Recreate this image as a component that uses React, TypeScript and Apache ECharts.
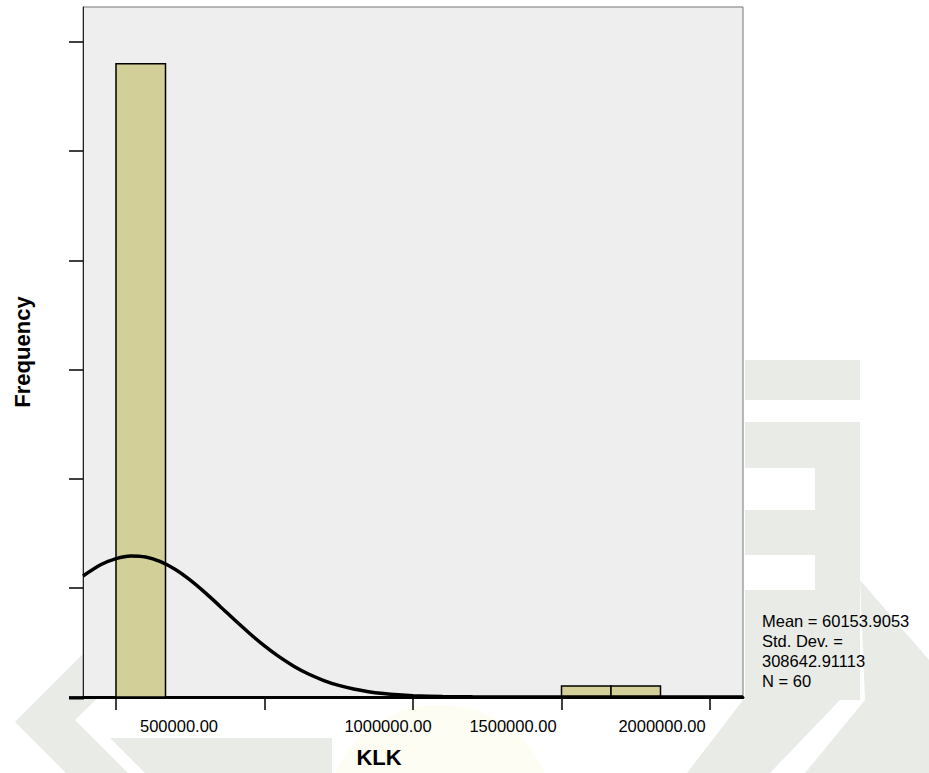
import React, { useEffect, useRef } from "react";
import * as echarts from "echarts";

// Histogram bins (KLK) and their frequencies
const binStarts = [0, 1500000, 1666667];
const binEnds = [166667, 1666667, 1833333];
const binCounts = [58, 1, 1];

// X axis ticks and labels (labels sit where SPSS printed them)
const xMin = -111111;
const xMax = 2111111;
const tickValues = [0, 500000, 1000000, 1500000, 2000000];
const tickLabels = ["500000.00", "1000000.00", "1500000.00", "2000000.00"];
const tickLabelAnchors = [212121, 915825, 1336700, 1838384];

// Y axis
const yMax = 63.2;
const yTickValues = [0, 10, 20, 30, 40, 50, 60];

// Normal curve points (x in KLK units, y in frequency)
const curveX = [
  -111111, -50000, 0, 50000, 100000, 150000, 200000, 250000, 300000, 350000,
  400000, 450000, 500000, 550000, 600000, 650000, 700000, 750000, 800000,
  850000, 900000, 950000, 1000000, 1100000, 1200000, 1300000, 1400000,
  1600000, 1800000, 2000000, 2111111,
];
const curveY = [
  11.08, 12.13, 12.68, 12.92, 12.82, 12.39, 11.67, 10.7, 9.56, 8.32, 7.05,
  5.82, 4.68, 3.67, 2.8, 2.08, 1.51, 1.06, 0.73, 0.49, 0.32, 0.2, 0.125,
  0.044, 0.014, 0.004, 0.001, 0, 0, 0, 0,
];

const statsLines = ["Mean = 60153.9053", "Std. Dev. =", "308642.91113", "N = 60"];

const FONT = 'Arial, "Liberation Sans", Helvetica, sans-serif';
const WM = "#E9EBE6";

export default function App() {
  const ref = useRef<HTMLDivElement>(null);

  useEffect(() => {
    document.body.style.margin = "0";
    if (!ref.current) return;
    const chart = echarts.init(ref.current, undefined, { renderer: "svg" });

    const watermark: any[] = [
      // left chevron
      {
        type: "polygon",
        z: -10,
        shape: { points: [[15, 722], [150, 587], [210, 587], [75, 720], [128, 773], [66, 773]] },
        style: { fill: WM },
      },
      {
        type: "polygon",
        z: -10,
        shape: { points: [[110, 738], [332, 738], [332, 773], [145, 773]] },
        style: { fill: WM },
      },
      // right side blocks
      { type: "rect", z: -10, shape: { x: 745, y: 360, width: 115, height: 40 }, style: { fill: WM } },
      { type: "rect", z: -10, shape: { x: 745, y: 422, width: 115, height: 278 }, style: { fill: WM } },
      { type: "rect", z: -9, shape: { x: 745, y: 468, width: 70, height: 42 }, style: { fill: "#ffffff" } },
      { type: "rect", z: -9, shape: { x: 745, y: 555, width: 70, height: 35 }, style: { fill: "#ffffff" } },
      {
        type: "polygon",
        z: -10,
        shape: { points: [[743, 700], [840, 700], [770, 773], [687, 773]] },
        style: { fill: WM },
      },
      {
        type: "polygon",
        z: -10,
        shape: { points: [[860, 580], [929, 660], [929, 773], [805, 773], [865, 700]] },
        style: { fill: WM },
      },
      {
        type: "ellipse",
        z: -10,
        shape: { cx: 440, cy: 805, rx: 110, ry: 100 },
        style: { fill: "#FEFDF4" },
      },
    ];

    const option: any = {
      animation: false,
      backgroundColor: "#ffffff",
      grid: {
        left: 83,
        top: 7,
        right: 186,
        bottom: 75,
        show: true,
        backgroundColor: "#EEEEEE",
        borderColor: "#777777",
        borderWidth: 1,
      },
      xAxis: [
        {
          type: "value",
          min: xMin,
          max: xMax,
          position: "bottom",
          axisLine: { show: true, onZero: false, lineStyle: { color: "#000", width: 3 } },
          axisTick: {
            show: true,
            customValues: tickValues,
            length: 13,
            lineStyle: { color: "#000", width: 1.5 },
          },
          axisLabel: { show: false },
          splitLine: { show: false },
          name: "KLK",
          nameLocation: "middle",
          nameGap: 49,
          nameTextStyle: {
            fontSize: 22,
            fontWeight: "bold",
            color: "#000",
            fontFamily: FONT,
            padding: [0, 68, 0, 0],
          },
        },
        {
          type: "value",
          min: xMin,
          max: xMax,
          position: "bottom",
          axisLine: { show: false, onZero: false },
          axisTick: { show: false },
          splitLine: { show: false },
          axisLabel: {
            customValues: tickLabelAnchors,
            formatter: (v: number) => {
              let best = 0;
              for (let i = 1; i < tickLabelAnchors.length; i++) {
                if (Math.abs(tickLabelAnchors[i] - v) < Math.abs(tickLabelAnchors[best] - v)) best = i;
              }
              return tickLabels[best];
            },
            fontSize: 16.5,
            color: "#000",
            fontFamily: FONT,
            margin: 20,
          },
        },
      ],
      yAxis: {
        type: "value",
        min: 0,
        max: yMax,
        position: "left",
        axisLine: { show: true, onZero: false, lineStyle: { color: "#222", width: 1 } },
        axisTick: {
          show: true,
          customValues: yTickValues,
          length: 14,
          lineStyle: { color: "#000", width: 1.5 },
        },
        axisLabel: { show: false },
        splitLine: { show: false },
        name: "Frequency",
        nameLocation: "middle",
        nameRotate: 90,
        nameGap: 50,
        nameTextStyle: { fontSize: 22, fontWeight: "bold", color: "#000", fontFamily: FONT },
      },
      series: [
        {
          type: "custom",
          xAxisIndex: 0,
          yAxisIndex: 0,
          z: 2,
          data: binStarts.map((s, i) => [s, binEnds[i], binCounts[i]]),
          encode: { x: [0, 1], y: 2 },
          renderItem: (params: any, api: any) => {
            const p0 = api.coord([api.value(0), api.value(2)]);
            const p1 = api.coord([api.value(1), 0]);
            return {
              type: "rect",
              shape: { x: p0[0], y: p0[1], width: p1[0] - p0[0], height: p1[1] - p0[1] },
              style: { fill: "#D3CF98", stroke: "#000", lineWidth: 1.5 },
            };
          },
        },
        {
          type: "line",
          xAxisIndex: 0,
          yAxisIndex: 0,
          z: 3,
          data: curveX.map((x, i) => [x, curveY[i]]),
          showSymbol: false,
          symbol: "none",
          smooth: 0.3,
          lineStyle: { color: "#000", width: 3.5 },
        },
      ],
      graphic: [
        ...watermark,
        { type: "rect", z: 10, shape: { x: 69, y: 696.5, width: 15, height: 3 }, style: { fill: "#000" } },
        {
          type: "text",
          z: 10,
          x: 762,
          y: 611,
          style: {
            text: statsLines.join("\n"),
            fontSize: 16.5,
            fontFamily: FONT,
            lineHeight: 20,
            fill: "#000",
          },
        },
      ],
    };

    chart.setOption(option);
    return () => chart.dispose();
  }, []);

  return <div ref={ref} style={{ width: 929, height: 773 }} />;
}
